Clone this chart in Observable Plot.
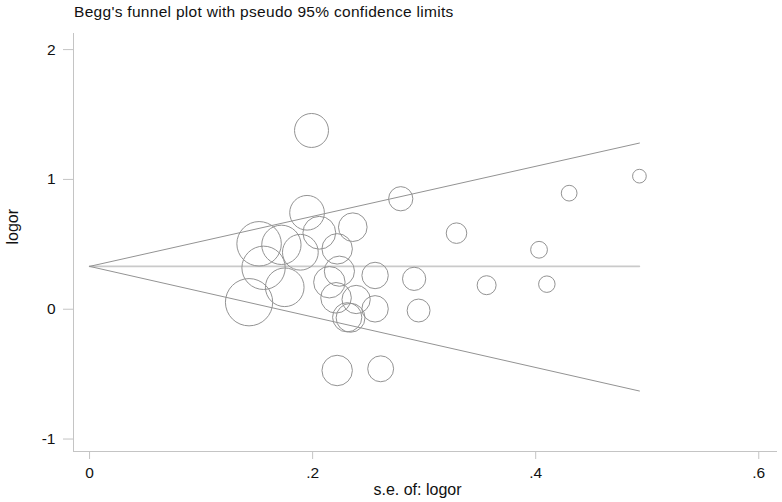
<!DOCTYPE html>
<html><head><meta charset="utf-8">
<script src="https://cdn.jsdelivr.net/npm/d3@7"></script>
<script src="https://cdn.jsdelivr.net/npm/@observablehq/plot@0.6"></script>
<style>
body{margin:0;background:#fff;font-family:"Liberation Sans",Arial,sans-serif;}
#title{height:22px;padding-left:74px;font-size:15.5px;letter-spacing:0.3px;line-height:23px;color:#111;white-space:nowrap;}
</style></head><body>
<div id="title">Begg's funnel plot with pseudo 95% confidence limits</div>
<div id="chart"></div>
<script>
// Study estimates
const studySE = [0.199, 0.195, 0.152, 0.172, 0.206, 0.236, 0.189, 0.222, 0.156, 0.224, 0.256, 0.291, 0.175, 0.215, 0.143, 0.221, 0.239, 0.256, 0.295, 0.231, 0.234, 0.279, 0.222, 0.261, 0.329, 0.430, 0.493, 0.403, 0.356, 0.410];
const studyLogOR = [1.377, 0.743, 0.504, 0.496, 0.589, 0.632, 0.439, 0.465, 0.319, 0.293, 0.260, 0.234, 0.169, 0.208, 0.054, 0.088, 0.075, 0.003, -0.010, -0.062, -0.066, 0.851, -0.472, -0.459, 0.586, 0.894, 1.025, 0.458, 0.185, 0.193];
// Pseudo 95% confidence limits
const limitSE = [0, 0.493];
const limitUpper = [0.33, 1.28];
const limitLower = [0.33, -0.63];
const pooledLine = [0.33, 0.33];
// Ticks
const xTicks = [0, 0.2, 0.4, 0.6];
const xTickLabels = ["0", ".2", ".4", ".6"];
const yTicks = [-1, 0, 1, 2];
const yTickLabels = ["-1", "0", "1", "2"];

const studies = studySE.map((s, i) => ({se: s, logor: studyLogOR[i], w: 1 / s}));
const upper = limitSE.map((s, i) => ({se: s, v: limitUpper[i]}));
const lower = limitSE.map((s, i) => ({se: s, v: limitLower[i]}));
const pooled = limitSE.map((s, i) => ({se: s, v: pooledLine[i]}));
const xDom = [-0.0144, 0.6168];
const yDom = [-1.096, 2.124];

const chart = Plot.plot({
  width: 782, height: 480,
  marginLeft: 73, marginRight: 5, marginTop: 11, marginBottom: 51,
  style: {fontFamily: '"Liberation Sans", Arial, sans-serif', fontSize: "15.5px", color: "#111", background: "#fff"},
  x: {domain: xDom},
  y: {domain: yDom},
  r: {type: "linear", domain: [0, 10], range: [0, 33.8]},
  marks: [
    Plot.ruleX([xDom[0]], {stroke: "#c4c4c4"}),
    Plot.ruleY([yDom[0]], {stroke: "#c4c4c4"}),
    Plot.axisY({ticks: yTicks, tickFormat: (d) => yTickLabels[yTicks.indexOf(d)], tickSize: 10, tickPadding: 8, stroke: "#c4c4c4", label: null}),
    Plot.axisX({ticks: xTicks, tickFormat: (d) => xTickLabels[xTicks.indexOf(d)], tickSize: 8, tickPadding: 7, stroke: "#c4c4c4", label: null}),
    Plot.line(pooled, {x: "se", y: "v", stroke: "#cacaca", strokeWidth: 1.6}),
    Plot.line(upper, {x: "se", y: "v", stroke: "#939393", strokeWidth: 1}),
    Plot.line(lower, {x: "se", y: "v", stroke: "#939393", strokeWidth: 1}),
    Plot.dot(studies, {x: "se", y: "logor", r: "w", stroke: "#939393", strokeWidth: 1, fill: "none"}),
    Plot.text(["s.e. of: logor"], {text: d => d, frameAnchor: "bottom", dx: -8, dy: 38, lineAnchor: "middle", fontSize: 16, fill: "#111"}),
    Plot.text(["logor"], {text: d => d, frameAnchor: "left", dx: -61, dy: 2, rotate: -90, fontSize: 16, fill: "#111"})
  ]
});
document.getElementById("chart").appendChild(chart);
</script>
</body></html>
